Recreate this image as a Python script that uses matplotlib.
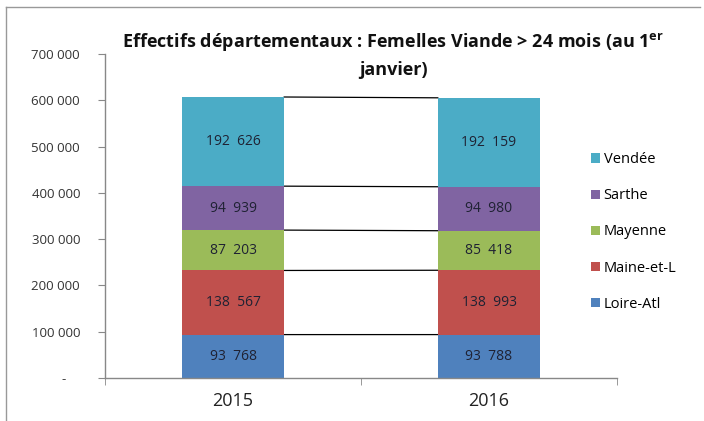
import matplotlib.pyplot as plt
from matplotlib.lines import Line2D

plt.rcParams['font.family'] = ['Open Sans', 'DejaVu Sans']
plt.rcParams['mathtext.fontset'] = 'custom'
plt.rcParams['mathtext.rm'] = 'Open Sans'
plt.rcParams['mathtext.bf'] = 'Open Sans:bold'

years = ['2015', '2016']
departements = ['Loire-Atl', 'Maine-et-L', 'Mayenne', 'Sarthe', 'Vendée']
loire_atl = [93768, 93788]
maine_et_l = [138567, 138993]
mayenne = [87203, 85418]
sarthe = [94939, 94980]
vendee = [192626, 192159]
yticks = [0, 100000, 200000, 300000, 400000, 500000, 600000, 700000]
ytick_labels = ['-    ', '100 000', '200 000', '300 000', '400 000', '500 000', '600 000', '700 000']

series = [loire_atl, maine_et_l, mayenne, sarthe, vendee]
colors = ['#4F81BD', '#C0504D', '#9BBB59', '#8064A2', '#4BACC6']

fig = plt.figure(figsize=(7.04, 4.21), dpi=100)
ax = fig.add_axes([105/704, 1 - 378/421, 512/704, 324/421])

x = [0, 1]
w = 0.4
bottom = [0, 0]
for name, vals, c in zip(departements, series, colors):
    ax.bar(x, vals, w, bottom=bottom, color=c, label=name, zorder=2)
    for i in x:
        s = f"{vals[i]:,}".replace(',', '  ')
        ax.text(i, bottom[i] + vals[i] / 2, s, ha='center', va='center',
                fontsize=10, color='#1f2233', zorder=3)
    bottom = [b + v for b, v in zip(bottom, vals)]
    # series line between the two bars
    ax.plot([w / 2, 1 - w / 2], bottom, color='black', lw=0.9, zorder=1)

ax.set_xlim(-0.5, 1.5)
ax.set_ylim(0, 700000)
ax.set_yticks(yticks)
ax.set_yticklabels(ytick_labels)
ax.set_xticks(x)
ax.set_xticklabels(years, fontsize=13)
ax.set_xticks([-0.5, 0.5, 1.5], minor=True)
ax.tick_params(axis='x', which='major', length=0, pad=10, colors='#222222')
ax.tick_params(axis='x', which='minor', length=5, color='#888888')
ax.tick_params(axis='y', length=5, color='#888888', labelsize=9.5, labelcolor='#333333', pad=13)
for sp in ['top', 'right']:
    ax.spines[sp].set_visible(False)
for sp in ['left', 'bottom']:
    ax.spines[sp].set_color('#888888')
    ax.spines[sp].set_linewidth(1)

h, l = ax.get_legend_handles_labels()
ax.legend(h[::-1], l[::-1], loc='center left', bbox_to_anchor=(578/704, 1 - 232/421),
          bbox_transform=fig.transFigure, frameon=False, fontsize=10.5,
          handlelength=0.6, handleheight=0.6, handletextpad=0.25, labelspacing=1.45)

fig.text(393/704, 1 - 42/421, 'Effectifs départementaux : Femelles Viande > 24 mois (au 1$^{\\mathbf{er}}$',
         ha='center', va='center', fontsize=13, fontweight='bold', color='#111111')
fig.text(393/704, 1 - 70/421, 'janvier)', ha='center', va='center',
         fontsize=13, fontweight='bold', color='#111111')

# outer frame
fig.add_artist(Line2D([6/704, 6/704], [0, 1 - 7/421], color='#999999', lw=1))
fig.add_artist(Line2D([6/704, 700/704], [1 - 7/421, 1 - 7/421], color='#999999', lw=1))

fig.savefig('out.png', dpi=100)
